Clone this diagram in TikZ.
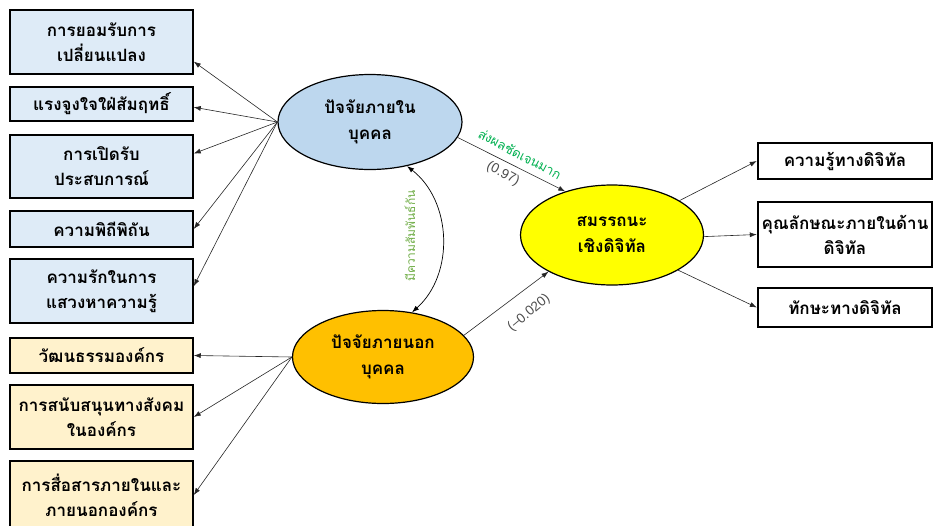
\documentclass[tikz,border=0pt]{standalone}
\usepackage{fontspec}
\setmainfont{Liberation Sans}
\newfontfamily\thaifont[Script=Thai]{Loma}
\usetikzlibrary{arrows.meta,shapes.geometric}

\definecolor{inblue}{RGB}{222,235,247}
\definecolor{outcream}{RGB}{255,242,204}
\definecolor{ellblue}{RGB}{189,215,238}
\definecolor{ellorange}{RGB}{255,192,0}
\definecolor{ellyellow}{RGB}{255,255,0}
\definecolor{effgreen}{RGB}{0,176,80}
\definecolor{relgreen}{RGB}{112,173,71}

\begin{document}
\begin{tikzpicture}[x=1pt, y=-1pt,
  factor/.style={draw, line width=1.5pt, minimum width=183pt, inner sep=0pt,
    align=center, font=\thaifont\bfseries\fontsize{17}{25}\selectfont},
  inbox/.style={factor, fill=inblue},
  outbox/.style={factor, fill=outcream},
  digibox/.style={factor, fill=white, line width=2.4pt, minimum width=174pt},
  latent/.style={ellipse, draw, line width=1.2pt, inner sep=0pt,
    align=center, font=\thaifont\bfseries\fontsize{17}{26}\selectfont},
  path/.style={-{Latex[length=7pt,width=5pt]}, black!85, line width=.6pt},
  note/.style={font=\thaifont\fontsize{13}{15}\selectfont, inner sep=0pt},
  coef/.style={font=\fontsize{13.5}{15}\selectfont, text=black!70, inner sep=0pt}]
\useasboundingbox (0,0) rectangle (934,525);

% indicators on the left
\node[inbox, minimum height=64pt] (b1) at (101.5,42) {การยอมรับการ\\เปลี่ยนแปลง};
\node[inbox, minimum height=34pt] (b2) at (101.5,104) {แรงจูงใจใฝ่สัมฤทธิ์};
\node[inbox, minimum height=63pt] (b3) at (101.5,166.5) {การเปิดรับ\\ประสบการณ์};
\node[inbox, minimum height=36pt] (b4) at (101.5,229) {ความพิถีพิถัน};
\node[inbox, minimum height=64pt] (b5) at (101.5,291) {ความรักในการ\\แสวงหาความรู้};
\node[outbox, minimum height=35pt] (b6) at (101.5,355.5) {วัฒนธรรมองค์กร};
\node[outbox, minimum height=64pt] (b7) at (101.5,417) {การสนับสนุนทางสังคม\\ในองค์กร};
\node[outbox, minimum height=68pt] (b8) at (101.5,495) {การสื่อสารภายในและ\\ภายนอกองค์กร};

% latent variables
\node[latent, fill=ellblue, minimum width=184pt, minimum height=95pt] (e1) at (370,122) {ปัจจัยภายใน\\บุคคล};
\node[latent, fill=ellorange, minimum width=181pt, minimum height=93pt] (e2) at (383,357) {ปัจจัยภายนอก\\บุคคล};
\node[latent, fill=ellyellow, minimum width=183pt, minimum height=100pt] (e3) at (612,235) {สมรรถนะ\\เชิงดิจิทัล};

% indicators on the right
\node[digibox, minimum height=36pt] (r1) at (845,161) {ความรู้ทางดิจิทัล};
\node[digibox, minimum height=65pt] (r2) at (845,234.5) {คุณลักษณะภายในด้าน\\ดิจิทัล};
\node[digibox, minimum height=39pt] (r3) at (845,307.5) {ทักษะทางดิจิทัล};

\draw[path] (e1.west) -- (b1.-12);
\draw[path] (e1.west) -- (b2.-2);
\draw[path] (e1.west) -- (b3.8);
\draw[path] (e1.west) -- (b4.east);
\draw[path] (e1.west) -- (b5.3);
\draw[path] (e2.west) -- (b6.east);
\draw[path] (e2.west) -- (b7.east);
\draw[path] (e2.west) -- (b8.east);

\draw[path] (e1.-10) -- (e3.137);
\node[note, rotate=-28, text=effgreen] (eff) at (520,154) {ส่งผลชัดเจนมาก};
\node[coef, rotate=-28] (c1) at (503,174) {(0.97)};
\draw[path] (e2.15) -- (e3.-150);
\node[coef, rotate=40] (c2) at (529,313) {(–0.020)};

\draw[{Latex[length=7pt,width=5pt]}-{Latex[length=7pt,width=5pt]}, line width=.7pt]
  (e1.-50) to[bend left=50] (e2.57);
\node[note, rotate=90, text=relgreen, font=\thaifont\fontsize{12}{14}\selectfont] (rel) at (410,236) {มีความสัมพันธ์กัน};

\draw[path] (e3.27) -- (r1.west);
\draw[path] (e3.-1) -- (r2.west);
\draw[path] (e3.-28) -- (r3.west);
\end{tikzpicture}
\end{document}
